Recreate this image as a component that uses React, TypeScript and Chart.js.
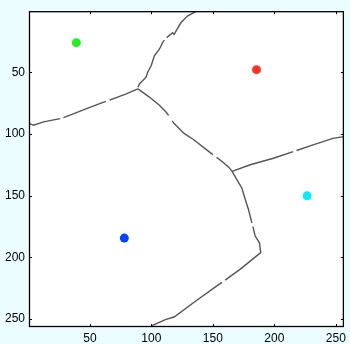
import React, { useEffect, useRef } from "react";
import { Chart, registerables } from "chart.js";

Chart.register(...registerables);

const xTicks = [50, 100, 150, 200, 250];
const yTicks = [50, 100, 150, 200, 250];

const seedX = [39, 185.5, 226.6, 78];
const seedY = [26, 47.9, 150.2, 184.4];
const seedColors = ["#22ee22", "#ff3322", "#00eeff", "#0044ff"];

// Boundary segments (x, y pairs)
const lineA1 = [[0.8, 91.6], [4.3, 92.9], [12.3, 90.2], [25.8, 87.6]];
const lineA2 = [[28.5, 86.8], [33.9, 84.8], [47.3, 79.5], [58, 75.5], [63, 73.6]];
const lineA3 = [[66, 72.5], [68.8, 71.5], [79.6, 67.5], [89, 63.5]];
const lineB1 = [[89, 62.1], [90.3, 59.5], [95.7, 54], [97, 50], [99.8, 44.7], [102.4, 36.6], [106.5, 31.3], [109.1, 26], [110.5, 24]];
const lineB2 = [[112.5, 21.9], [117.2, 17.9], [118.5, 19.3], [124, 9.9], [129.3, 4.5], [136, 0.8]];
const lineC1 = [[89, 63.5], [98.4, 70.1], [106.5, 76.8], [111.9, 82.2], [114, 85]];
const lineC2 = [[117, 89.5], [118.5, 91.6], [126.6, 99.6], [134.7, 104.9], [146.8, 114.3], [150, 116.8]];
const lineC3 = [[153, 119], [157.5, 122.3], [162.9, 126.9], [165.6, 130.4]];
const lineD1 = [[165.6, 130.4], [180.4, 125], [199.2, 119.7], [215.3, 114.3]];
const lineD2 = [[218, 113.4], [231.5, 108.9], [247.6, 103.6], [256.5, 102.2]];
const lineE1 = [[165.6, 130.4], [169.6, 137.3], [173.6, 144], [176.4, 153.4], [179, 161.4], [181.7, 172.1]];
const lineE2 = [[182.5, 175], [184.4, 182.8], [187.9, 188.2], [188.9, 196.2], [172.3, 209.6], [160, 218.5]];
const lineE3 = [[157.5, 220.3], [153.5, 223], [134.7, 236.4], [118.5, 248.4], [111.9, 250.3], [101, 255.1], [99, 256.5]];

const segments = [lineA1, lineA2, lineA3, lineB1, lineB2, lineC1, lineC2, lineC3, lineD1, lineD2, lineE1, lineE2, lineE3];

const boxPlugin = {
  id: "boxPlugin",
  beforeDraw(chart: any) {
    const ctx = chart.ctx;
    ctx.save();
    ctx.fillStyle = "#ecfdff";
    ctx.fillRect(0, 0, chart.width, chart.height);
    const a = chart.chartArea;
    ctx.fillStyle = "#ffffff";
    ctx.fillRect(a.left, a.top, a.right - a.left, a.bottom - a.top);
    ctx.restore();
  },
  afterDraw(chart: any) {
    const ctx = chart.ctx;
    const a = chart.chartArea;
    const xs = chart.scales.x;
    const ys = chart.scales.y;
    ctx.save();
    ctx.strokeStyle = "#000000";
    ctx.lineWidth = 1;
    ctx.beginPath();
    const tl = 3;
    xTicks.forEach((t) => {
      const px = Math.round(xs.getPixelForValue(t)) + 0.5;
      ctx.moveTo(px, a.bottom);
      ctx.lineTo(px, a.bottom - tl);
      ctx.moveTo(px, a.top);
      ctx.lineTo(px, a.top + tl);
    });
    yTicks.forEach((t) => {
      const py = Math.round(ys.getPixelForValue(t)) + 0.5;
      ctx.moveTo(a.left, py);
      ctx.lineTo(a.left + tl, py);
      ctx.moveTo(a.right, py);
      ctx.lineTo(a.right - tl, py);
    });
    ctx.stroke();
    ctx.lineWidth = 1.3;
    ctx.strokeRect(a.left + 0.5, a.top + 0.5, a.right - a.left - 1, a.bottom - a.top - 1);
    ctx.restore();
  },
};

export default function App() {
  const ref = useRef<HTMLCanvasElement | null>(null);
  useEffect(() => {
    document.body.style.margin = "0";
    const lineSets = segments.map((seg) => ({
      type: "line" as const,
      data: seg.map(([x, y]) => ({ x, y })),
      borderColor: "#555555",
      borderWidth: 1.4,
      pointRadius: 0,
      tension: 0,
      fill: false,
    }));
    const pointSets = seedX.map((x, i) => ({
      type: "scatter" as const,
      data: [{ x, y: seedY[i] }],
      backgroundColor: seedColors[i],
      borderColor: seedColors[i],
      pointRadius: 4.5,
      borderWidth: 0,
    }));
    const chart = new Chart(ref.current!, {
      type: "scatter",
      data: { datasets: [...lineSets, ...pointSets] as any },
      options: {
        animation: false,
        responsive: false,
        maintainAspectRatio: false,
        layout: { padding: { left: 0, right: 4, top: 9, bottom: 0 } },
        plugins: { legend: { display: false }, tooltip: { enabled: false } },
        scales: {
          x: {
            type: "linear",
            min: 0.5,
            max: 256.5,
            grid: { display: false, drawTicks: false },
            border: { display: false },
            afterBuildTicks: (s: any) => {
              s.ticks = xTicks.map((v) => ({ value: v }));
            },
            afterFit: (s: any) => {
              s.height = 17;
            },
            ticks: {
              color: "#000",
              padding: 4,
              maxRotation: 0,
              font: { family: "Liberation Sans", size: 12 },
            },
          },
          y: {
            type: "linear",
            reverse: true,
            min: 0.5,
            max: 256.5,
            grid: { display: false, drawTicks: false },
            border: { display: false },
            afterBuildTicks: (s: any) => {
              s.ticks = yTicks.map((v) => ({ value: v }));
            },
            afterFit: (s: any) => {
              s.width = 29;
            },
            ticks: {
              color: "#000",
              padding: 4,
              font: { family: "Liberation Sans", size: 12 },
            },
          },
        },
      },
      plugins: [boxPlugin],
    });
    return () => chart.destroy();
  }, []);
  return <canvas ref={ref} width={350} height={344} style={{ display: "block" }} />;
}
